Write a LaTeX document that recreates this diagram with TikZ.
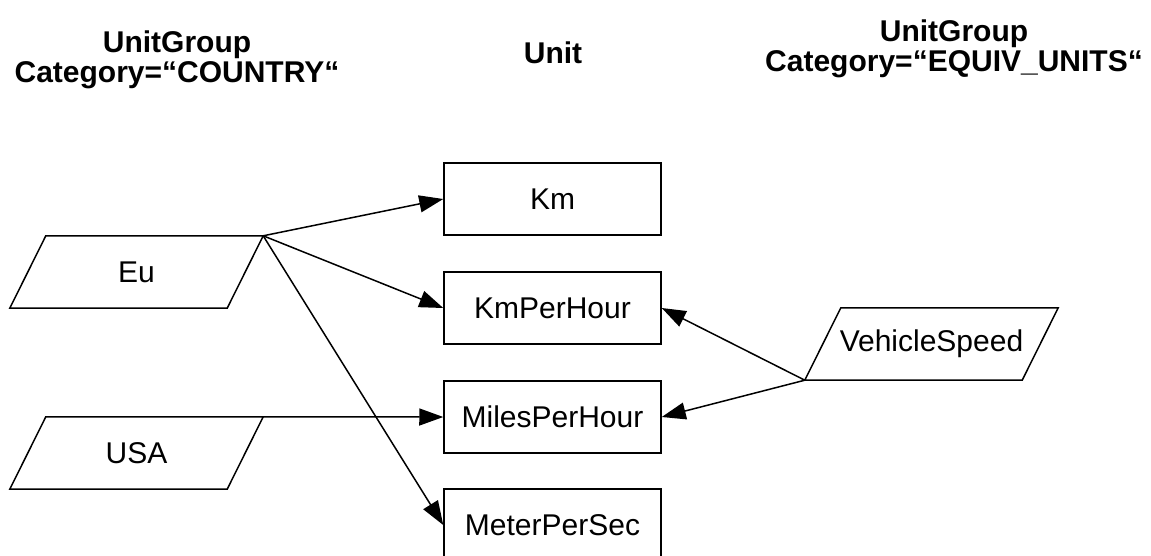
\documentclass[tikz,border=0pt]{standalone}
\usepackage{fontspec}
\setmainfont{Liberation Sans}
\usetikzlibrary{arrows.meta}
\begin{document}
\begin{tikzpicture}[x=1pt,y=-1pt,
  unitbox/.style={draw, line width=1.5pt, minimum width=217pt, minimum height=72pt, inner sep=0pt, font=\fontsize{30}{36}\selectfont},
  paranode/.style={minimum width=253pt, minimum height=72pt, inner sep=0pt, font=\fontsize{30}{36}\selectfont},
  paraline/.style={draw, line width=1.5pt, line join=miter},
  hdr/.style={font=\bfseries\fontsize{30}{36}\selectfont, inner sep=0pt, anchor=base},
  conn/.style={line width=1.5pt, -{Triangle[length=24pt,width=17pt]}}]
\useasboundingbox (0,0) rectangle (1151,555);
\clip (0,0) rectangle (1151,555);
% headers
\node[hdr] (h1a) at (177,52) {UnitGroup};
\node[hdr] (h1b) at (177,82) {Category=“COUNTRY“};
\node[hdr] (h2)  at (553,63) {Unit};
\node[hdr] (h3a) at (954,41) {UnitGroup};
\node[hdr] (h3b) at (954,71) {Category=“EQUIV\_UNITS“};
% unit boxes
\node[unitbox] (km)  at (552.5,199) {Km};
\node[unitbox] (kmh) at (552.5,308) {KmPerHour};
\node[unitbox] (mph) at (552.5,417) {MilesPerHour};
\node[unitbox] (mps) at (552.5,525) {MeterPerSec};
% parallelograms
\node[paranode] (eu)  at (136.5,272) {Eu};
\node[paranode] (usa) at (136.5,453) {USA};
\node[paranode] (veh) at (931.5,344) {VehicleSpeed};
\foreach \n in {eu,usa,veh}{
  \draw[paraline] (\n.south west) -- ([xshift=-36pt]\n.south east) -- (\n.north east) -- ([xshift=36pt]\n.north west) -- cycle;
}
% connectors
\draw[conn] (eu.north east) -- (km.west);
\draw[conn] (eu.north east) -- (kmh.west);
\draw[conn] (eu.north east) -- (mps.west);
\draw[conn] (usa.north east) -- (mph.west);
\draw[conn] (veh.south west) -- (kmh.east);
\draw[conn] (veh.south west) -- (mph.east);
\end{tikzpicture}
\end{document}
